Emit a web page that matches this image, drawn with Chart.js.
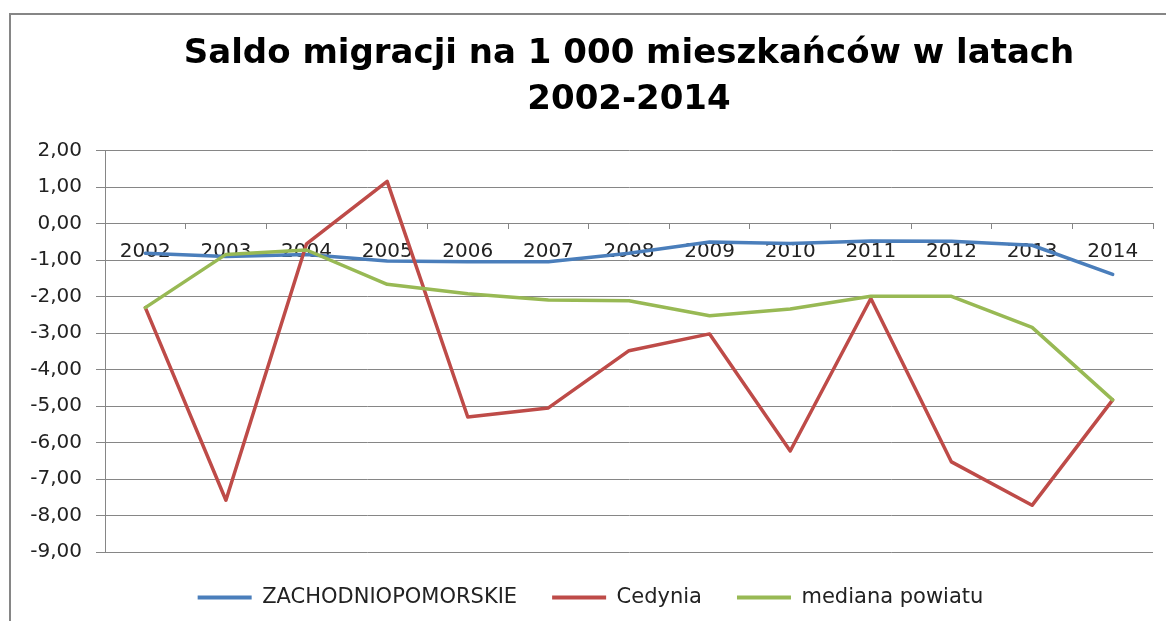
<!DOCTYPE html>
<html>
<head>
    <title>Saldo migracji</title>
    <script src="https://cdn.jsdelivr.net/npm/chart.js"></script>
    <style>
        body { margin: 0; width: 1166px; height: 621px; overflow: hidden; background: #fff; position: relative; }
        #frame { position: absolute; left: 9px; top: 13px; width: 1200px; height: 700px; border: 2px solid #868686; }
        #wrap { position: absolute; left: 0; top: 0; width: 1166px; height: 618px; }
    </style>
</head>
<body>
    <div id="frame"></div>
    <div id="wrap"><canvas id="lineChart"></canvas></div>

    <script>
        // values
        const years = ['2002', '2003', '2004', '2005', '2006', '2007', '2008', '2009', '2010', '2011', '2012', '2013', '2014'];
        const zachodniopomorskie = [-0.81, -0.90, -0.84, -1.02, -1.04, -1.04, -0.81, -0.50, -0.54, -0.47, -0.48, -0.59, -1.39];
        const cedynia = [-2.30, -7.58, -0.55, 1.16, -5.30, -5.05, -3.48, -3.02, -6.23, -2.05, -6.53, -7.72, -4.83];
        const medianaPowiatu = [-2.30, -0.84, -0.72, -1.66, -1.92, -2.09, -2.11, -2.52, -2.34, -1.99, -1.99, -2.84, -4.83];

        const gridColor = '#868686';
        const font = 'DejaVu Sans';

        function series(label, data, color, order) {
            return {
                label: label,
                data: data,
                borderColor: color,
                backgroundColor: color,
                borderWidth: 3.5,
                borderJoinStyle: 'round',
                borderCapStyle: 'round',
                pointRadius: 0,
                tension: 0,
                fill: false,
                order: order
            };
        }

        const ctx = document.getElementById('lineChart').getContext('2d');
        new Chart(ctx, {
            type: 'line',
            data: {
                labels: years,
                datasets: [
                    series('ZACHODNIOPOMORSKIE', zachodniopomorskie, '#4A7EBB', 3),
                    series('Cedynia', cedynia, '#BE4B48', 2),
                    series('mediana powiatu', medianaPowiatu, '#98B954', 1)
                ]
            },
            options: {
                responsive: true,
                maintainAspectRatio: false,
                animation: false,
                layout: { padding: { left: 28, right: 13, top: 0, bottom: 0 } },
                plugins: {
                    title: {
                        display: true,
                        text: ['Saldo migracji na 1 000 mieszkańców w latach', '2002-2014'],
                        color: '#000',
                        fullSize: false,
                        font: { family: font, size: 34, weight: 'bold', lineHeight: 1.35 },
                        padding: { top: 31, bottom: 28 }
                    },
                    legend: {
                        position: 'bottom',
                        labels: {
                            boxWidth: 54,
                            boxHeight: 4,
                            padding: 35,
                            color: '#222',
                            font: { family: font, size: 21 },
                            sort: (a, b) => a.datasetIndex - b.datasetIndex,
                            generateLabels: function(chart) {
                                const items = Chart.defaults.plugins.legend.labels.generateLabels(chart);
                                items.forEach(item => { item.lineWidth = 0; });
                                return items;
                            }
                        }
                    },
                    tooltip: { enabled: false }
                },
                scales: {
                    x: {
                        position: { y: 0 },
                        offset: true,
                        border: { color: gridColor, width: 1 },
                        grid: { offset: true, drawOnChartArea: false, tickLength: 5, color: gridColor },
                        ticks: {
                            color: '#222',
                            padding: 11,
                            autoSkip: false,
                            maxRotation: 0,
                            font: { family: font, size: 20 }
                        }
                    },
                    y: {
                        min: -9,
                        max: 2,
                        afterFit: function(scale) { scale.width = 77; },
                        border: { color: gridColor, width: 1 },
                        grid: { color: gridColor, tickLength: 9 },
                        ticks: {
                            stepSize: 1,
                            color: '#222',
                            padding: 14,
                            font: { family: font, size: 20 },
                            callback: value => value.toFixed(2).replace('.', ',')
                        }
                    }
                }
            }
        });
    </script>
</body>
</html>
